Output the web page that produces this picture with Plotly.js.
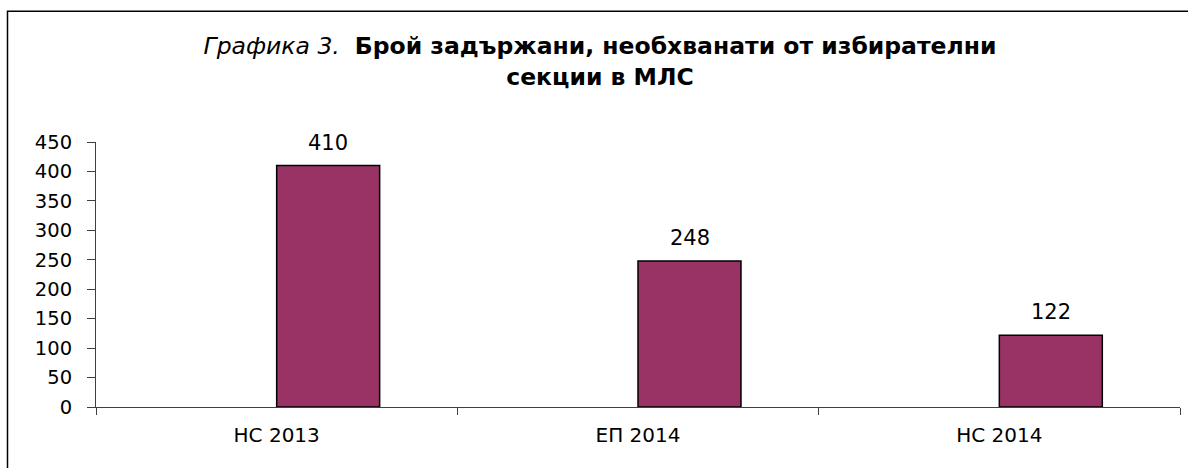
<!DOCTYPE html>
<html>
<head>
<meta charset="utf-8">
<script src="https://cdn.plot.ly/plotly-3.0.1.min.js"></script>
<style>html,body{margin:0;padding:0;background:#fff;}#chart{width:1188px;height:468px;}</style>
</head>
<body>
<div id="chart"></div>
<script>
const categories = ["НС 2013", "ЕП 2014", "НС 2014"];
const values = [410, 248, 122];
const yTicks = [0, 50, 100, 150, 200, 250, 300, 350, 400, 450];
const titleItalic = "Графика 3.";
const titleBold1 = "Брой задържани, необхванати от избирателни";
const titleBold2 = "секции в МЛС";

const FONT = "DejaVu Sans, Liberation Sans, Arial, sans-serif";
const BAR_W = 0.285;

const trace = {
  type: "bar",
  x: categories,
  y: values,
  offset: 0,
  width: BAR_W,
  marker: {color: "#993366", line: {color: "#000000", width: 1.5}},
  hoverinfo: "x+y"
};

const annotations = categories.map((c, i) => ({
  x: c, y: values[i], xref: "x", yref: "y",
  text: String(values[i]), showarrow: false,
  xanchor: "center", yanchor: "bottom",
  xshift: 51.5, yshift: 9,
  font: {family: FONT, size: 21, color: "#000"}
}));

const layout = {
  width: 1188, height: 468,
  margin: {l: 96, r: 8, t: 142, b: 61},
  paper_bgcolor: "#ffffff", plot_bgcolor: "#ffffff",
  showlegend: false,
  font: {family: FONT, color: "#000"},
  title: {
    text: "<i>" + titleItalic + "</i>  <b>" + titleBold1 + "</b><br><b>" + titleBold2 + "</b>",
    font: {family: FONT, size: 23.5, color: "#000"},
    x: 600 / 1188, xref: "container", xanchor: "center",
    y: 1 - 54 / 468, yref: "container", yanchor: "top"
  },
  xaxis: {
    type: "category",
    showgrid: false, zeroline: false,
    showline: true, linecolor: "#404040", linewidth: 1,
    ticks: "outside", tickson: "boundaries", ticklen: 7, tickcolor: "#404040", tickwidth: 1,
    tickfont: {family: FONT, size: 20, color: "#000"},
    ticklabelstandoff: 10,
    fixedrange: true
  },
  yaxis: {
    range: [0, 450],
    tickvals: yTicks, ticktext: yTicks.map(String),
    showgrid: false, zeroline: false,
    showline: true, linecolor: "#404040", linewidth: 1,
    ticks: "outside", ticklen: 8, tickcolor: "#404040", tickwidth: 1,
    tickfont: {family: FONT, size: 19.5, color: "#000"},
    ticklabelstandoff: 11,
    fixedrange: true
  },
  annotations: annotations,
  shapes: [{
    type: "rect", xref: "paper", yref: "paper",
    x0: (7.5 - 96) / 1084, x1: (1200 - 96) / 1084,
    y0: (406.7 - 480) / 265, y1: (406.7 - 11) / 265,
    line: {color: "#000", width: 1.5}, fillcolor: "rgba(0,0,0,0)", layer: "below"
  }]
};

Plotly.newPlot("chart", [trace], layout, {displayModeBar: false, staticPlot: true});
</script>
</body>
</html>
